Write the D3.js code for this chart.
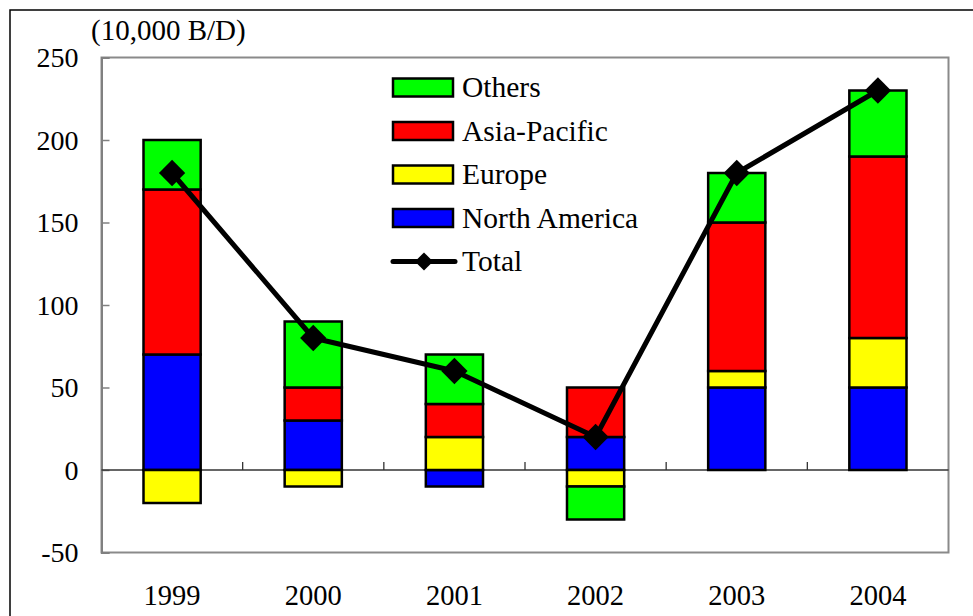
<!DOCTYPE html>
<html><head><meta charset="utf-8"><script src="https://cdn.jsdelivr.net/npm/d3@7"></script></head>
<body style="margin:0;background:#fff">
<svg id="chart" width="973" height="616" style="display:block"></svg>
<script>
// Years on the category axis
const years = ["1999", "2000", "2001", "2002", "2003", "2004"];
// Regional contributions (10,000 B/D)
const northAmerica = [70, 30, -10, 20, 50, 50];
const europe       = [-20, -10, 20, -10, 10, 30];
const asiaPacific  = [100, 20, 20, 30, 90, 110];
const others       = [30, 40, 30, -20, 30, 40];
// Total line
const total        = [180, 80, 60, 20, 180, 230];
// Y axis ticks
const yTicks = [-50, 0, 50, 100, 150, 200, 250];

const seriesKeys = ["North America", "Europe", "Asia-Pacific", "Others"];
const seriesVals = [northAmerica, europe, asiaPacific, others];
const colors = { "North America": "#0000ff", "Europe": "#ffff00", "Asia-Pacific": "#ff0000", "Others": "#00ff00" };

const rows = years.map((yr, i) => {
  const r = { year: yr };
  seriesKeys.forEach((k, j) => r[k] = seriesVals[j][i]);
  return r;
});

const svg = d3.select("#chart");
const plot = { left: 101.5, top: 57.5, right: 948.5, bottom: 552.5 };

function label(sel, size = 28.5) {
  return sel.style("font-family", '"Liberation Serif"').style("font-size", size + "px").attr("fill", "#000");
}

// Outer frame
svg.append("rect")
  .attr("x", 10).attr("y", 10).attr("width", 1000).attr("height", 700)
  .attr("fill", "none").attr("stroke", "#000").attr("stroke-width", 1.5);

const x = d3.scaleBand().domain(years).range([plot.left, plot.right]);
const y = d3.scaleLinear().domain([-50, 250]).range([plot.bottom, plot.top]);
const barW = x.bandwidth() * 0.405;

// Plot area border
svg.append("rect")
  .attr("x", plot.left).attr("y", plot.top)
  .attr("width", plot.right - plot.left).attr("height", plot.bottom - plot.top)
  .attr("fill", "none").attr("stroke", "#8a8a8a").attr("stroke-width", 2);

// Y axis
const yAxis = d3.axisLeft(y).tickValues(yTicks).tickSize(-8).tickPadding(23).tickFormat(d => String(d));
const gy = svg.append("g").attr("transform", `translate(${plot.left},0)`).call(yAxis);
gy.attr("font-family", null).attr("font-size", null);
gy.select(".domain").attr("stroke", "#808080").attr("stroke-width", 2);
gy.selectAll(".tick line").attr("stroke", "#808080").attr("stroke-width", 1.5);
label(gy.selectAll(".tick text"), 28).attr("dy", "0.33em");

// Unit label
label(svg.append("text").attr("x", 91).attr("y", 39.5), 29).text("(10,000 B/D)");

// Zero line with category tick marks
svg.append("line")
  .attr("x1", plot.left).attr("x2", plot.right)
  .attr("y1", y(0)).attr("y2", y(0))
  .attr("stroke", "#333").attr("stroke-width", 1.3);
svg.append("g").selectAll("line").data(years.slice(1)).join("line")
  .attr("x1", d => x(d)).attr("x2", d => x(d))
  .attr("y1", y(0)).attr("y2", y(0) - 8)
  .attr("stroke", "#333").attr("stroke-width", 1.3);

// X labels
const gx = svg.append("g").attr("transform", `translate(0,${plot.bottom})`)
  .call(d3.axisBottom(x).tickSize(0).tickPadding(0));
gx.attr("font-family", null).attr("font-size", null);
gx.select(".domain").remove();
label(gx.selectAll(".tick text")).attr("y", 52.5).attr("dy", 0);

// Stacked bars (positive and negative stacks diverge from zero)
const layers = d3.stack().keys(seriesKeys).offset(d3.stackOffsetDiverging)(rows);
svg.append("g").selectAll("g").data(layers).join("g")
  .attr("fill", d => colors[d.key])
  .selectAll("rect").data(d => d).join("rect")
  .attr("x", d => x(d.data.year) + (x.bandwidth() - barW) / 2)
  .attr("width", barW)
  .attr("y", d => y(Math.max(d[0], d[1])))
  .attr("height", d => Math.abs(y(d[0]) - y(d[1])))
  .attr("stroke", "#000").attr("stroke-width", 2.5);

// Total line with diamond markers
const line = d3.line().x((d, i) => x(years[i]) + x.bandwidth() / 2).y(d => y(d));
svg.append("path").datum(total)
  .attr("d", line).attr("fill", "none")
  .attr("stroke", "#000").attr("stroke-width", 5).attr("stroke-linejoin", "round");
svg.append("g").selectAll("path").data(total).join("path")
  .attr("transform", (d, i) => `translate(${x(years[i]) + x.bandwidth() / 2},${y(d)})`)
  .attr("d", d3.symbol().type(d3.symbolDiamond2).size(440)).attr("fill", "#000");

// Legend
const legendItems = ["Others", "Asia-Pacific", "Europe", "North America", "Total"];
const lg = svg.append("g").attr("transform", "translate(392,87.5)");
legendItems.forEach((name, i) => {
  const g = lg.append("g").attr("transform", `translate(0,${i * 43.5})`);
  if (name === "Total") {
    g.append("line").attr("x1", 1).attr("x2", 63).attr("y1", 0).attr("y2", 0)
      .attr("stroke", "#000").attr("stroke-width", 5).attr("stroke-linecap", "round");
    g.append("path").attr("d", d3.symbol().type(d3.symbolDiamond2).size(210)()).attr("fill", "#000")
      .attr("transform", "translate(32,0)");
  } else {
    g.append("rect").attr("x", 1).attr("y", -9).attr("width", 60).attr("height", 18)
      .attr("fill", colors[name]).attr("stroke", "#000").attr("stroke-width", 2.5);
  }
  label(g.append("text").attr("x", 70).attr("y", 0).attr("dy", "0.33em"), 29.5).text(name);
});
</script>
</body>
</html>
